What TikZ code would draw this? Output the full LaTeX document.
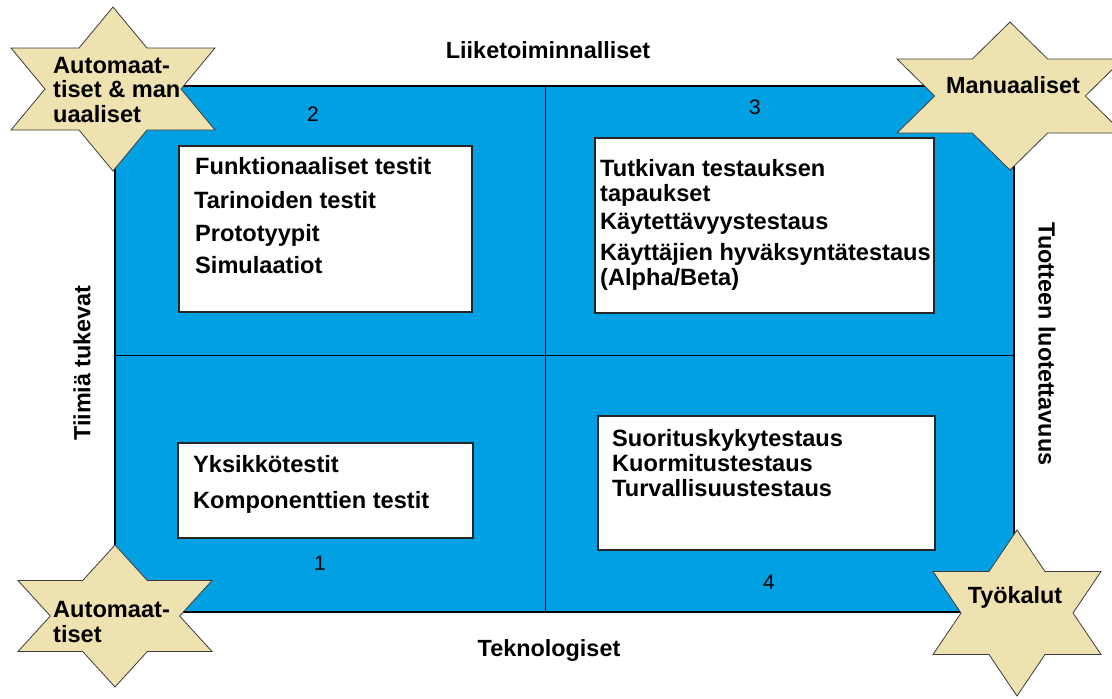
\documentclass[tikz,border=0pt]{standalone}
\usepackage{fontspec}
\setmainfont{Liberation Sans}
\definecolor{qblue}{RGB}{0,160,227}
\definecolor{starfill}{RGB}{238,226,176}
\definecolor{starline}{RGB}{60,60,60}
\begin{document}
\begin{tikzpicture}[x=1pt,y=-1pt,
  quadrant/.style={fill=qblue,draw=black,line width=1.2pt},
  divider/.style={draw=black,line width=1pt},
  listbox/.style={draw=black!85,fill=white,line width=1.1pt},
  item/.style={anchor=base west,inner sep=0pt,font=\fontsize{23.6}{27}\selectfont\bfseries},
  axislabel/.style={inner sep=0pt,font=\fontsize{23.4}{27}\selectfont\bfseries},
  qnum/.style={inner sep=0pt,font=\fontsize{21}{25}\selectfont},
  pics/hexagram/.style n args={2}{code={
    \filldraw[fill=starfill,draw=starline,line width=0.8pt,line join=miter]
      (0,-#2) -- ({#1/3},{-#2/2}) -- (#1,{-#2/2}) -- ({2*#1/3},0)
      -- (#1,{#2/2}) -- ({#1/3},{#2/2}) -- (0,#2) -- ({-#1/3},{#2/2})
      -- (-#1,{#2/2}) -- ({-2*#1/3},0) -- (-#1,{-#2/2}) -- ({-#1/3},{-#2/2}) -- cycle;
  }}
]
\useasboundingbox (0,0) rectangle (1112,699);

% quadrant field and dividers
\path[quadrant] (115,86) rectangle (1014,612);
\draw[divider] (545,86) -- (545,612);
\draw[divider] (115,355) -- (1014,355);

% quadrant numbers
\node[qnum] (n2) at (313,114) {2};
\node[qnum] (n3) at (755,107) {3};
\node[qnum] (n1) at (320,563) {1};
\node[qnum] (n4) at (769,582) {4};

% content boxes
\path[listbox] (179,146) rectangle (472,312);
\path[listbox] (595,138) rectangle (934,313);
\path[listbox] (178,443) rectangle (473,538);
\path[listbox] (598,416) rectangle (935,550);

% quadrant 2
\node[item] (q2a) at (195,174) {Funktionaaliset testit};
\node[item] (q2b) at (194,208) {Tarinoiden testit};
\node[item] (q2c) at (195,241) {Prototyypit};
\node[item] (q2d) at (195,273) {Simulaatiot};

% quadrant 3
\node[item] (q3a) at (600,176) {Tutkivan testauksen};
\node[item] (q3b) at (600,201) {tapaukset};
\node[item] (q3c) at (600,229) {Käytettävyystestaus};
\node[item] (q3d) at (600,260) {Käyttäjien hyväksyntätestaus};
\node[item] (q3e) at (600,285) {(Alpha/Beta)};

% quadrant 1
\node[item] (q1a) at (193,472) {Yksikkötestit};
\node[item] (q1b) at (193,508) {Komponenttien testit};

% quadrant 4
\node[item] (q4a) at (612,446) {Suorituskykytestaus};
\node[item] (q4b) at (612,471) {Kuormitustestaus};
\node[item] (q4c) at (612,496) {Turvallisuustestaus};

% axis labels
\node[axislabel] (top) at (548,50) {Liiketoiminnalliset};
\node[axislabel] (bottom) at (549,650) {Teknologiset};
\node[axislabel,rotate=90] (left) at (82,363) {Tiimiä tukevat};
\node[axislabel,rotate=-90] (right) at (1047,344) {Tuotteen luotettavuus};

% corner stars
\pic (s1) at (113,89) {hexagram={102}{82}};
\pic (s2) at (1010,96) {hexagram={113}{74}};
\pic (s3) at (115,616) {hexagram={97}{71}};
\pic (s4) at (1017,613) {hexagram={84}{83}};

\node[item] (s1a) at (53,73) {Automaat-};
\node[item] (s1b) at (53,97) {tiset \& man};
\node[item] (s1c) at (53,122) {uaaliset};
\node[axislabel] (s2t) at (1013,85) {Manuaaliset};
\node[item] (s3a) at (53,617) {Automaat-};
\node[item] (s3b) at (53,642) {tiset};
\node[axislabel] (s4t) at (1015,597) {Työkalut};
\end{tikzpicture}
\end{document}
